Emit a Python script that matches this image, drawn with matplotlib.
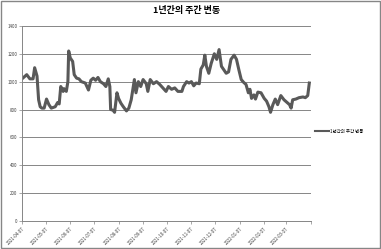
import matplotlib
matplotlib.use('Agg')
import matplotlib.pyplot as plt
import numpy as np
import pandas as pd

plt.rcParams['font.family'] = ['Noto Sans CJK KR', 'DejaVu Sans']

# ------------------------------------------------------
# Data: days since 2021-04-07 and values
start = pd.Timestamp('2021-04-07')
days = [0, 6, 10, 14, 16, 19, 21, 23, 25, 28, 31, 34, 37, 42, 45, 47, 49, 52, 53, 56,
        58, 59, 61, 64, 66, 69, 72, 75, 80, 84, 87, 90, 93, 96, 99, 103, 106, 109, 111, 112,
        115, 117, 120, 122, 125, 128, 132, 135, 138, 142, 144, 147, 150, 153, 157, 159, 162, 166, 170, 174,
        178, 182, 185, 189, 193, 197, 202, 204, 208, 211, 214, 217, 220, 224, 226, 229, 231, 233, 236, 239,
        243, 246, 249, 252, 255, 258, 261, 264, 268, 271, 274, 277, 280, 283, 286, 288, 290, 293, 295, 298,
        302, 306, 309, 312, 314, 317, 320, 323, 327, 331, 335, 338, 340, 342, 346, 350, 355, 358, 361, 363]
values = [1020, 1050, 1020, 1020, 1100, 1040, 870, 820, 810, 810, 875, 835, 810, 820, 850, 840, 965, 930, 950, 930,
          1000, 1220, 1170, 1145, 1050, 1025, 1020, 1000, 990, 940, 1010, 1025, 1010, 1030, 1000, 985, 965, 1020, 965, 800,
          795, 780, 920, 880, 845, 820, 790, 810, 870, 1015, 920, 1000, 965, 1015, 985, 930, 1015, 985, 1000, 980,
          955, 930, 965, 945, 955, 930, 930, 965, 1000, 990, 1000, 970, 990, 985, 1090, 1120, 1190, 1110, 1060, 1130,
          1200, 1160, 1230, 1110, 1085, 1060, 1070, 1160, 1190, 1160, 1085, 1015, 995, 980, 920, 945, 880, 905, 875, 925,
          920, 880, 860, 820, 780, 835, 875, 835, 900, 870, 850, 835, 810, 870, 875, 885, 890, 885, 900, 990]
series_name = '1년간의 주간 변동'
title = '1년간의 주간 변동'
tick_dates = pd.date_range('2021-04-07', periods=13, freq=pd.DateOffset(months=1))

dates = start + pd.to_timedelta(days, unit='D')

# ------------------------------------------------------
fig = plt.figure(figsize=(3.81, 2.49), dpi=100)
ax = fig.add_axes([0.0577, 0.1124, 0.7583, 0.7836])

ax.plot(dates, values, color='#595959', linewidth=2.2, label=series_name, solid_joinstyle='round')

ax.set_ylim(0, 1400)
ax.set_yticks(np.arange(0, 1401, 200))
ax.set_xlim(tick_dates[0], tick_dates[-1])
ax.set_xticks(tick_dates)
ax.set_xticklabels([d.strftime('%Y-%m-%d') for d in tick_dates[:-1]] + [''],
                   rotation=45, ha='right', rotation_mode='anchor')
ax.grid(axis='y', color='#868686', linewidth=0.7)
ax.set_axisbelow(True)

for s in ['top', 'right']:
    ax.spines[s].set_visible(False)
for s in ['left', 'bottom']:
    ax.spines[s].set_color('#868686')
    ax.spines[s].set_linewidth(0.7)
ax.tick_params(axis='both', labelsize=3.2, colors='#404040', length=2, width=0.5, pad=1.5)
ax.tick_params(axis='both', color='#868686')

fig.suptitle(title, x=0.49, y=0.975, fontsize=6.5, fontweight='bold')

leg = ax.legend(loc='center left', bbox_to_anchor=(1.0, 0.46), frameon=False, fontsize=3.2,
                handlelength=3.2, handletextpad=0.3)
leg.get_lines()[0].set_linewidth(1.5)

# chart border
fig.patches.append(plt.Rectangle((0.002, 0.003), 0.995, 0.993, transform=fig.transFigure,
                                 fill=False, edgecolor='#868686', linewidth=1.0))

fig.savefig('out.png', dpi=100)
